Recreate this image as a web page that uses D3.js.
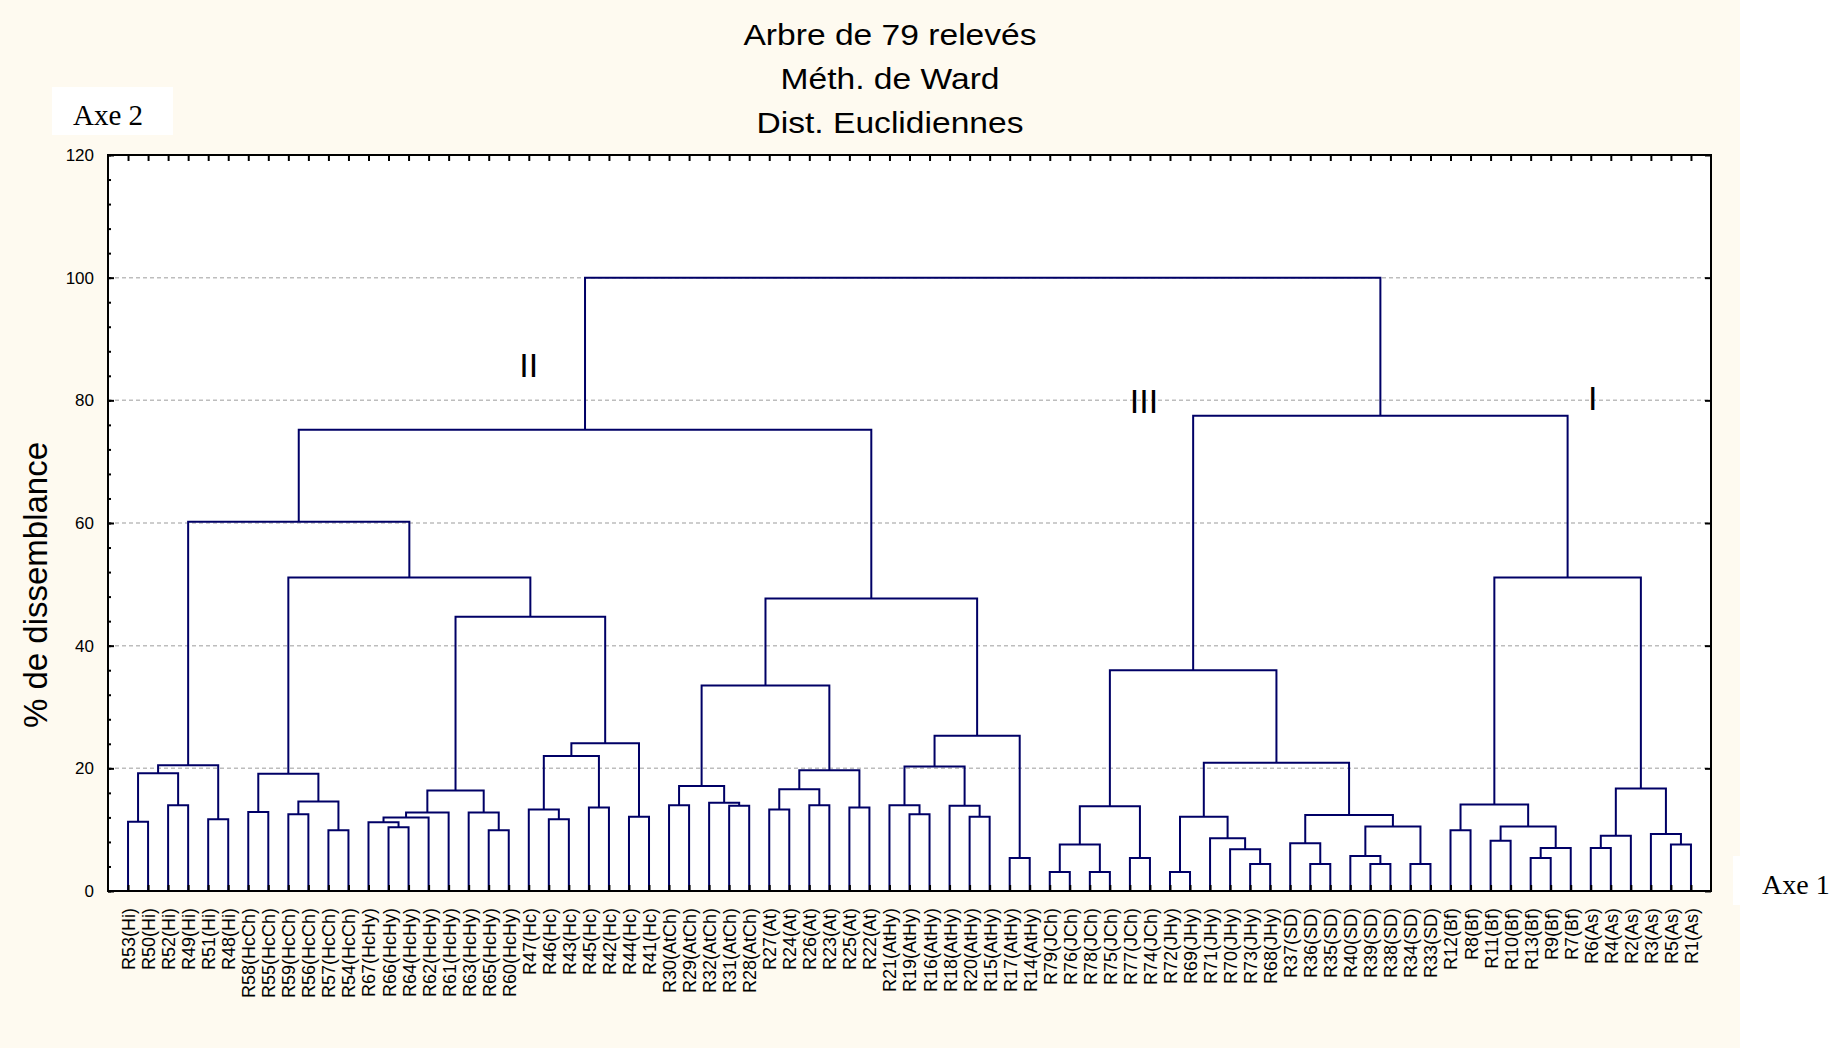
<!DOCTYPE html>
<html>
<head>
<meta charset="utf-8">
<script src="https://cdn.jsdelivr.net/npm/d3@7"></script>
<style>
  body { margin: 0; background: #fff; }
  svg text { font-family: "Liberation Sans", Arial, sans-serif; fill: #000; }
</style>
</head>
<body>
<div id="chart"></div>
<script>
// leaf order, left to right
var leaves = [
  "R53(Hi)","R50(Hi)","R52(Hi)","R49(Hi)","R51(Hi)","R48(Hi)",
  "R58(HcCh)","R55(HcCh)","R59(HcCh)","R56(HcCh)","R57(HcCh)","R54(HcCh)",
  "R67(HcHy)","R66(HcHy)","R64(HcHy)","R62(HcHy)","R61(HcHy)","R63(HcHy)","R65(HcHy)","R60(HcHy)",
  "R47(Hc)","R46(Hc)","R43(Hc)","R45(Hc)","R42(Hc)","R44(Hc)","R41(Hc)",
  "R30(AtCh)","R29(AtCh)","R32(AtCh)","R31(AtCh)","R28(AtCh)",
  "R27(At)","R24(At)","R26(At)","R23(At)","R25(At)","R22(At)",
  "R21(AtHy)","R19(AtHy)","R16(AtHy)","R18(AtHy)","R20(AtHy)","R15(AtHy)","R17(AtHy)","R14(AtHy)",
  "R79(JCh)","R76(JCh)","R78(JCh)","R75(JCh)","R77(JCh)","R74(JCh)",
  "R72(JHy)","R69(JHy)","R71(JHy)","R70(JHy)","R73(JHy)","R68(JHy)",
  "R37(SD)","R36(SD)","R35(SD)","R40(SD)","R39(SD)","R38(SD)","R34(SD)","R33(SD)",
  "R12(Bf)","R8(Bf)","R11(Bf)","R10(Bf)","R13(Bf)","R9(Bf)","R7(Bf)",
  "R6(As)","R4(As)","R2(As)","R3(As)","R5(As)","R1(As)"
];

// merges: [node id, left child, right child, % de dissemblance]
var mergesHi = [
  ["a1","R53(Hi)","R50(Hi)",11.3], ["a2","R52(Hi)","R49(Hi)",14.0],
  ["a3","a1","a2",19.2], ["a4","R51(Hi)","R48(Hi)",11.7], ["Hi","a3","a4",20.5]
];
var mergesHcCh = [
  ["b1","R58(HcCh)","R55(HcCh)",12.9], ["b2","R59(HcCh)","R56(HcCh)",12.5],
  ["b3","R57(HcCh)","R54(HcCh)",9.9], ["b4","b2","b3",14.6], ["HcCh","b1","b4",19.1]
];
var mergesHcHy = [
  ["c1","R66(HcHy)","R64(HcHy)",10.4], ["c2","R67(HcHy)","c1",11.2],
  ["c3","c2","R62(HcHy)",12.0], ["c4","c3","R61(HcHy)",12.8],
  ["c5","R65(HcHy)","R60(HcHy)",9.9], ["c6","R63(HcHy)","c5",12.8], ["HcHy","c4","c6",16.4]
];
var mergesHc = [
  ["d1","R46(Hc)","R43(Hc)",11.7], ["d2","R47(Hc)","d1",13.3],
  ["d3","R45(Hc)","R42(Hc)",13.6], ["d4","d2","d3",22.0],
  ["d5","R44(Hc)","R41(Hc)",12.1], ["Hc","d4","d5",24.1]
];
var mergesAtCh = [
  ["f1","R30(AtCh)","R29(AtCh)",14.0], ["f2","R31(AtCh)","R28(AtCh)",13.9],
  ["f3","R32(AtCh)","f2",14.4], ["AtCh","f1","f3",17.1]
];
var mergesAt = [
  ["g1","R27(At)","R24(At)",13.3], ["g2","R26(At)","R23(At)",14.0],
  ["g3","g1","g2",16.6], ["g4","R25(At)","R22(At)",13.6], ["At","g3","g4",19.7]
];
var mergesAtHy = [
  ["i1","R19(AtHy)","R16(AtHy)",12.5], ["i2","R21(AtHy)","i1",14.0],
  ["i3","R20(AtHy)","R15(AtHy)",12.1], ["i4","R18(AtHy)","i3",13.9],
  ["i5","i2","i4",20.3], ["i6","R17(AtHy)","R14(AtHy)",5.4], ["AtHy","i5","i6",25.3]
];
var mergesJCh = [
  ["j1","R79(JCh)","R76(JCh)",3.1], ["j2","R78(JCh)","R75(JCh)",3.1],
  ["j3","j1","j2",7.6], ["j4","R77(JCh)","R74(JCh)",5.4], ["JCh","j3","j4",13.8]
];
var mergesJHy = [
  ["k1","R72(JHy)","R69(JHy)",3.1], ["k2","R73(JHy)","R68(JHy)",4.4],
  ["k3","R70(JHy)","k2",6.8], ["k4","R71(JHy)","k3",8.6], ["JHy","k1","k4",12.1]
];
var mergesSD = [
  ["l1","R36(SD)","R35(SD)",4.4], ["l2","R37(SD)","l1",7.8],
  ["l3","R39(SD)","R38(SD)",4.4], ["l4","R40(SD)","l3",5.7],
  ["l5","R34(SD)","R33(SD)",4.4], ["l6","l4","l5",10.5], ["SD","l2","l6",12.4]
];
var mergesBf = [
  ["n1","R12(Bf)","R8(Bf)",9.9], ["n2","R11(Bf)","R10(Bf)",8.2],
  ["n3","R13(Bf)","R9(Bf)",5.4], ["n4","n3","R7(Bf)",7.0],
  ["n5","n2","n4",10.5], ["Bf","n1","n5",14.1]
];
var mergesAs = [
  ["o1","R6(As)","R4(As)",7.0], ["o2","o1","R2(As)",9.0],
  ["o3","R5(As)","R1(As)",7.6], ["o4","R3(As)","o3",9.3], ["As","o2","o4",16.7]
];
var mergesTop = [
  ["e1","HcHy","Hc",44.7], ["e2","HcCh","e1",51.1], ["e3","Hi","e2",60.2],
  ["h1","AtCh","At",33.5], ["h2","h1","AtHy",47.7], ["II","e3","h2",75.2],
  ["m1","JHy","SD",20.9], ["III","JCh","m1",36.0],
  ["I","Bf","As",51.1], ["p1","III","I",77.5], ["root","II","p1",100]
];

var titleLines = ["Arbre de 79 relevés", "Méth. de Ward", "Dist. Euclidiennes"];
var yTicks = [0, 20, 40, 60, 80, 100, 120];
var groupLabels = [
  { text: "II",  pos: 21.0, val: 83.8 },
  { text: "III", pos: 51.7, val: 78.0 },
  { text: "I",   pos: 74.1, val: 78.4 }
];

var W = 1843, H = 1048;
var svg = d3.select("#chart").append("svg")
  .attr("width", W)
  .attr("height", H);

// background
svg.append("rect").attr("width", W).attr("height", H).attr("fill", "#fff");
svg.append("rect").attr("width", 1740).attr("height", H).attr("fill", "#fefaf0");

var x = d3.scaleLinear().domain([0, leaves.length + 1]).range([108, 1711]);
var y = d3.scaleLinear().domain([0, 120]).range([891, 155]);

svg.append("rect")
  .attr("x", x(0)).attr("y", y(120))
  .attr("width", x(80) - x(0)).attr("height", y(0) - y(120))
  .attr("fill", "#fff");

// grid
svg.append("g").selectAll("line")
  .data(yTicks.filter(function(d){ return d > 0 && d < 120; }))
  .enter().append("line")
    .attr("x1", x(0)).attr("x2", x(80))
    .attr("y1", function(d){ return y(d); })
    .attr("y2", function(d){ return y(d); })
    .attr("stroke", "#bdbdbd")
    .attr("stroke-width", 1.5)
    .attr("stroke-dasharray", "4,3");

// tree
var nodes = {};
leaves.forEach(function(l, i){ nodes[l] = { name: l, pos: i + 1, h: 0 }; });
var allMerges = [].concat(mergesHi, mergesHcCh, mergesHcHy, mergesHc, mergesAtCh, mergesAt,
  mergesAtHy, mergesJCh, mergesJHy, mergesSD, mergesBf, mergesAs, mergesTop);
allMerges.forEach(function(m){
  nodes[m[0]] = { name: m[0], h: m[3], children: [nodes[m[1]], nodes[m[2]]] };
});

var root = d3.hierarchy(nodes["root"]);
root.eachAfter(function(n){
  if (n.children) n.data.pos = d3.mean(n.children, function(c){ return c.data.pos; });
});

svg.append("g").selectAll("path")
  .data(root.descendants().filter(function(n){ return n.children; }))
  .enter().append("path")
    .attr("fill", "none")
    .attr("stroke", "#000066")
    .attr("stroke-width", 2)
    .attr("d", function(n){
      var a = n.children[0].data, b = n.children[1].data;
      return "M" + x(a.pos) + "," + y(a.h) +
             "V" + y(n.data.h) +
             "H" + x(b.pos) +
             "V" + y(b.h);
    });

// axes
var leafPos = leaves.map(function(l, i){ return i + 1; });

var minorY = svg.append("g").attr("transform", "translate(" + x(0) + ",0)")
  .call(d3.axisLeft(y).tickValues(d3.range(0, 121, 4)).tickSize(-3).tickFormat(""));
var majorY = svg.append("g").attr("transform", "translate(" + x(0) + ",0)")
  .call(d3.axisLeft(y).tickValues(yTicks).tickSize(-6).tickPadding(14));
var rightY = svg.append("g").attr("transform", "translate(" + x(80) + ",0)")
  .call(d3.axisRight(y).tickValues(yTicks).tickSize(-6).tickFormat(""));
var topX = svg.append("g").attr("transform", "translate(0," + y(120) + ")")
  .call(d3.axisTop(x).tickValues(leafPos).tickSize(-6).tickFormat(""));
var bottomX = svg.append("g").attr("transform", "translate(0," + y(0) + ")")
  .call(d3.axisBottom(x).tickValues(leafPos).tickSize(-6)
    .tickFormat(function(d){ return leaves[d - 1]; }));

[minorY, majorY, rightY, topX, bottomX].forEach(function(g){
  g.select(".domain").remove();
  g.selectAll(".tick line").attr("stroke", "#000").attr("stroke-width", 2);
});

majorY.selectAll("text")
  .style("font-size", "17px")
  .attr("fill", "#000");

bottomX.selectAll("text")
  .style("font-size", "18px")
  .attr("fill", "#000")
  .attr("text-anchor", "end")
  .attr("transform", "rotate(-90)")
  .attr("x", -17)
  .attr("y", 0)
  .attr("dy", "0.36em");

// frame
svg.append("rect")
  .attr("x", x(0)).attr("y", y(120))
  .attr("width", x(80) - x(0)).attr("height", y(0) - y(120))
  .attr("fill", "none")
  .attr("stroke", "#000")
  .attr("stroke-width", 2);

// group labels
svg.append("g").selectAll("text")
  .data(groupLabels)
  .enter().append("text")
    .attr("x", function(d){ return x(d.pos); })
    .attr("y", function(d){ return y(d.val); })
    .attr("text-anchor", "middle")
    .style("font-size", "34px")
    .text(function(d){ return d.text; });

// titles
titleLines.forEach(function(t, i){
  svg.append("text")
    .attr("transform", "translate(890," + (45 + i * 44) + ") scale(1.12,1)")
    .attr("text-anchor", "middle")
    .style("font-size", "30px")
    .text(t);
});

svg.append("text")
  .attr("transform", "translate(35,585) rotate(-90)")
  .attr("text-anchor", "middle")
  .attr("dy", "0.35em")
  .style("font-size", "33px")
  .text("% de dissemblance");

// axis name boxes
svg.append("rect").attr("x", 52).attr("y", 87).attr("width", 121).attr("height", 48).attr("fill", "#fff");
svg.append("text")
  .attr("x", 73).attr("y", 125)
  .style("font-family", "'Liberation Serif', 'Times New Roman', serif")
  .style("font-size", "29px")
  .text("Axe 2");

svg.append("rect").attr("x", 1733).attr("y", 856).attr("width", 110).attr("height", 49).attr("fill", "#fff");
svg.append("text")
  .attr("x", 1762).attr("y", 894)
  .style("font-family", "'Liberation Serif', 'Times New Roman', serif")
  .style("font-size", "28px")
  .text("Axe 1");
</script>
</body>
</html>
